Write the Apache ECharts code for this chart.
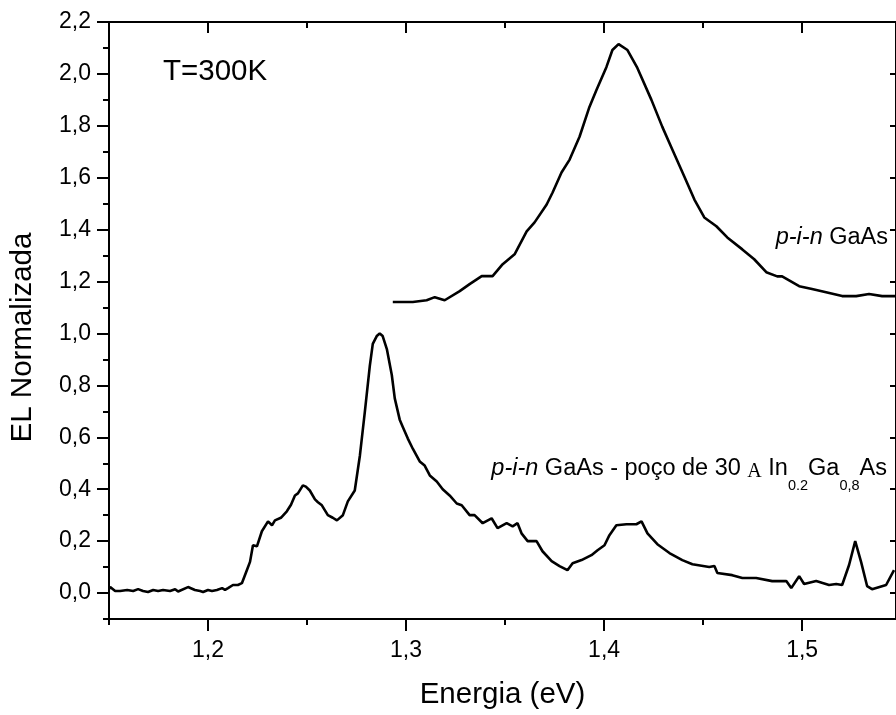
<!DOCTYPE html>
<html>
<head>
<meta charset="utf-8">
<script src="https://cdn.jsdelivr.net/npm/echarts@6/dist/echarts.min.js"></script>
<style>html,body{margin:0;padding:0;background:#fff}#chart{width:896px;height:715px}</style>
</head>
<body>
<div id="chart"></div>
<script>
// p-i-n GaAs with 30 A In0.2Ga0.8As quantum well (lower curve)
const energyQW = [1.1500,1.1506,1.1531,1.1556,1.1592,1.1622,1.1647,1.1672,1.1697,1.1723,1.1748,1.1773,1.1808,1.1834,1.1849,1.1899,1.1934,1.1960,1.1975,1.2000,1.2020,1.2045,1.2071,1.2086,1.2101,1.2126,1.2151,1.2171,1.2197,1.2212,1.2227,1.2247,1.2272,1.2303,1.2323,1.2338,1.2368,1.2398,1.2419,1.2439,1.2454,1.2479,1.2494,1.2514,1.2540,1.2555,1.2575,1.2605,1.2630,1.2651,1.2681,1.2706,1.2741,1.2767,1.2792,1.2817,1.2832,1.2852,1.2867,1.2882,1.2903,1.2928,1.2943,1.2968,1.2983,1.3009,1.3034,1.3069,1.3094,1.3120,1.3155,1.3185,1.3220,1.3256,1.3281,1.3321,1.3346,1.3387,1.3432,1.3462,1.3508,1.3538,1.3563,1.3583,1.3614,1.3659,1.3689,1.3735,1.3775,1.3815,1.3841,1.3886,1.3936,1.3967,1.4002,1.4027,1.4062,1.4113,1.4163,1.4189,1.4219,1.4269,1.4330,1.4395,1.4446,1.4531,1.4557,1.4572,1.4647,1.4698,1.4768,1.4849,1.4920,1.4945,1.4985,1.5010,1.5071,1.5136,1.5172,1.5202,1.5237,1.5268,1.5298,1.5328,1.5353,1.5424,1.5464];
const elQW = [0.015,0.023,0.008,0.008,0.012,0.008,0.015,0.008,0.004,0.012,0.008,0.012,0.008,0.015,0.006,0.023,0.012,0.008,0.004,0.012,0.008,0.012,0.019,0.012,0.019,0.031,0.031,0.038,0.090,0.120,0.184,0.180,0.238,0.276,0.261,0.280,0.290,0.315,0.340,0.376,0.384,0.415,0.410,0.395,0.361,0.350,0.338,0.300,0.290,0.280,0.300,0.353,0.395,0.530,0.699,0.875,0.960,0.990,1.000,0.990,0.940,0.840,0.750,0.668,0.641,0.595,0.556,0.507,0.491,0.453,0.430,0.400,0.376,0.345,0.338,0.300,0.300,0.269,0.288,0.250,0.269,0.257,0.269,0.230,0.200,0.200,0.161,0.123,0.104,0.088,0.115,0.127,0.146,0.165,0.184,0.223,0.261,0.265,0.265,0.276,0.230,0.188,0.154,0.127,0.111,0.100,0.104,0.077,0.069,0.058,0.058,0.046,0.046,0.019,0.065,0.035,0.046,0.031,0.035,0.031,0.108,0.200,0.119,0.027,0.015,0.031,0.088];

// p-i-n GaAs (upper curve)
const energyGaAs = [1.2933,1.3034,1.3104,1.3145,1.3195,1.3271,1.3321,1.3382,1.3437,1.3488,1.3548,1.3609,1.3649,1.3710,1.3740,1.3785,1.3826,1.3876,1.3926,1.3962,1.4012,1.4042,1.4073,1.4118,1.4168,1.4239,1.4294,1.4345,1.4405,1.4456,1.4506,1.4567,1.4622,1.4698,1.4758,1.4819,1.4874,1.4899,1.4985,1.5050,1.5121,1.5202,1.5273,1.5338,1.5404,1.5469];
const elGaAs = [1.121,1.121,1.128,1.140,1.128,1.163,1.190,1.221,1.221,1.267,1.305,1.393,1.428,1.497,1.543,1.620,1.670,1.758,1.873,1.939,2.027,2.092,2.115,2.092,2.023,1.900,1.796,1.708,1.605,1.516,1.447,1.413,1.370,1.324,1.286,1.236,1.220,1.220,1.182,1.171,1.159,1.144,1.144,1.152,1.144,1.144];

const xMajorTicks = [1.2, 1.3, 1.4, 1.5];
const xMinorTicks = [1.15, 1.25, 1.35, 1.45];
const yMajorTicks = [0.0, 0.2, 0.4, 0.6, 0.8, 1.0, 1.2, 1.4, 1.6, 1.8, 2.0, 2.2];
const yMinorTicks = [-0.1, 0.1, 0.3, 0.5, 0.7, 0.9, 1.1, 1.3, 1.5, 1.7, 1.9, 2.1];

const X_MIN = 1.15, X_MAX = 1.5474, Y_MIN = -0.1, Y_MAX = 2.2;
const FONT = 'Liberation Sans, Arial, sans-serif';
const comma = v => Number(v).toFixed(1).replace('.', ',');
const lineStyle = { color: '#000', width: 2 };

function xAx(pos, ticks, len, inside, labels) {
  return {
    type: 'value', position: pos, min: X_MIN, max: X_MAX,
    axisLine: { show: true, onZero: false, lineStyle },
    axisTick: { show: true, inside, length: len, customValues: ticks, lineStyle },
    axisLabel: labels ? { show: true, customValues: xMajorTicks, formatter: comma, margin: 20,
      fontSize: 23, color: '#000', fontFamily: FONT } : { show: false },
    splitLine: { show: false }
  };
}
function yAx(pos, ticks, len, inside, labels) {
  return {
    type: 'value', position: pos, min: Y_MIN, max: Y_MAX,
    axisLine: { show: true, onZero: false, lineStyle },
    axisTick: { show: true, inside, length: len, customValues: ticks, lineStyle },
    axisLabel: labels ? { show: true, customValues: yMajorTicks, formatter: comma, margin: 18,
      fontSize: 23, color: '#000', fontFamily: FONT } : { show: false },
    splitLine: { show: false }
  };
}

const xAxes = [
  xAx('bottom', xMajorTicks, 12, false, true),
  xAx('bottom', xMinorTicks, 6, false, false),
  xAx('top', xMajorTicks, 11, true, false),
  xAx('top', xMinorTicks, 6, true, false)
];
xAxes[0].name = 'Energia (eV)';
xAxes[0].nameLocation = 'middle';
xAxes[0].nameGap = 61;
xAxes[0].nameTextStyle = { fontSize: 29.5, color: '#000', fontFamily: FONT };

const yAxes = [
  yAx('left', yMajorTicks, 12, false, true),
  yAx('left', yMinorTicks, 6, false, false),
  yAx('right', yMajorTicks, 6, true, false)
];
yAxes[0].name = 'EL Normalizada';
yAxes[0].nameLocation = 'middle';
yAxes[0].nameGap = 71;
yAxes[0].nameRotate = 90;
yAxes[0].nameTextStyle = { fontSize: 29.5, color: '#000', fontFamily: FONT, padding: [0, 34, 0, 0] };

const zip = (xs, ys) => xs.map((x, i) => [x, ys[i]]);

const mainTok = { fontSize: 23.5, fontFamily: FONT, color: '#000', lineHeight: 27, verticalAlign: 'top' };
const italTok = Object.assign({}, mainTok, { fontStyle: 'italic' });
const subTok = { fontSize: 14.5, fontFamily: FONT, color: '#000', lineHeight: 14.5, verticalAlign: 'top', padding: [21, 0, 0, 0] };
const serifTok = { fontSize: 20, fontFamily: 'Liberation Serif, Times New Roman, serif', color: '#000', lineHeight: 20, verticalAlign: 'top', padding: [5, 0, 0, 0] };

const option = {
  animation: false,
  backgroundColor: '#fff',
  grid: { left: 108, right: 0, top: 22, bottom: 94, containLabel: false },
  xAxis: xAxes,
  yAxis: yAxes,
  series: [
    { type: 'line', name: 'p-i-n GaAs - QW', data: zip(energyQW, elQW), xAxisIndex: 0, yAxisIndex: 0,
      showSymbol: false, symbol: 'none', lineStyle: { color: '#000', width: 2.6 }, itemStyle: { color: '#000' } },
    { type: 'line', name: 'p-i-n GaAs', data: zip(energyGaAs, elGaAs), xAxisIndex: 0, yAxisIndex: 0,
      showSymbol: false, symbol: 'none', lineStyle: { color: '#000', width: 2.6 }, itemStyle: { color: '#000' } }
  ],
  graphic: [
    { type: 'text', left: 163, top: 57, style: { text: 'T=300K', fontSize: 29.5, fontFamily: FONT, fill: '#000' } },
    { type: 'text', x: 888, y: 226, style: {
        text: '{i|p-i-n}{n| GaAs}', align: 'right', verticalAlign: 'top',
        rich: { i: italTok, n: mainTok } } },
    { type: 'text', x: 887, y: 457, style: {
        text: '{i|p-i-n}{n| GaAs - poço de 30 }{s|A}{n| In}{b|0.2}{n|Ga}{b|0,8}{n|As}', align: 'right', verticalAlign: 'top',
        rich: { i: italTok, n: mainTok, s: serifTok, b: subTok } } }
  ]
};

const chart = echarts.init(document.getElementById('chart'), null, { renderer: 'canvas' });
chart.setOption(option);
</script>
</body>
</html>
